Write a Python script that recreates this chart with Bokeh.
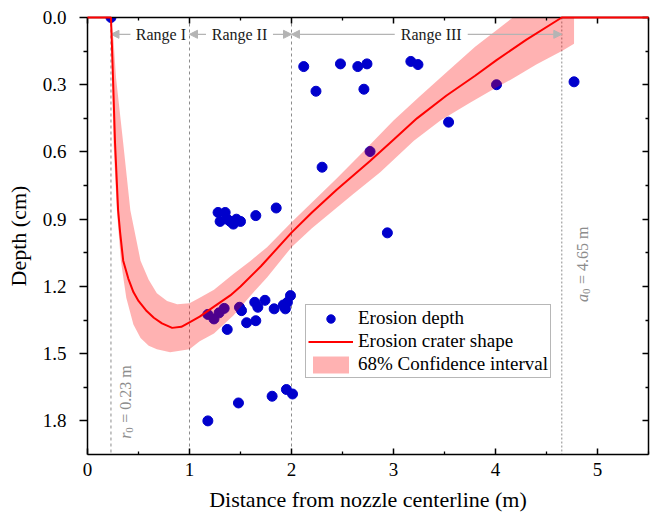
from math import pi
from bokeh.plotting import figure
from bokeh.models import (Range1d, LinearAxis, FixedTicker, Span, Label, Arrow, NormalHead,
                          Legend, LegendItem, PrintfTickFormatter, CustomJSTickFormatter)
from bokeh.embed import file_html
from bokeh.resources import INLINE

SERIF = "Liberation Serif"
GRAY = "#8c8c8c"

# ---------------- data ----------------
x_ticks = [0, 1, 2, 3, 4, 5]
x_minor = [0.5, 1.5, 2.5, 3.5, 4.5, 5.5]
y_ticks = [0.0, 0.3, 0.6, 0.9, 1.2, 1.5, 1.8]
y_minor = [0.15, 0.45, 0.75, 1.05, 1.35, 1.65]

# measured erosion depth
depth_x = [0.23,
           2.12, 2.24, 2.48, 2.65, 2.74, 2.71, 3.17, 3.24, 3.54, 2.77, 2.30, 2.94, 4.01, 4.77,
           1.28, 1.35, 1.30, 1.37, 1.40, 1.43, 1.46, 1.50, 1.65, 1.85,
           1.18, 1.24, 1.29, 1.34, 1.37, 1.49, 1.51, 1.56, 1.64, 1.67, 1.65, 1.74, 1.83,
           1.92, 1.94, 1.96, 1.99,
           1.95, 2.01, 1.81, 1.48, 1.18]
depth_y = [0.0,
           0.219, 0.329, 0.207, 0.219, 0.207, 0.32, 0.196, 0.21, 0.467, 0.598, 0.668, 0.961, 0.30, 0.287,
           0.87, 0.87, 0.91, 0.90, 0.91, 0.922, 0.90, 0.91, 0.884, 0.85,
           1.325, 1.345, 1.318, 1.298, 1.392, 1.293, 1.308, 1.362, 1.271, 1.293, 1.353, 1.262, 1.30,
           1.283, 1.30, 1.271, 1.241,
           1.66, 1.68, 1.69, 1.72, 1.80]

# fitted erosion crater shape
crater_x = [0.0, 0.23, 0.24, 0.25, 0.27, 0.30, 0.32, 0.35, 0.40, 0.45, 0.50, 0.58, 0.65, 0.73,
            0.83, 0.92, 1.00, 1.10, 1.24, 1.40, 1.50, 1.70, 2.00, 2.20, 2.44, 2.77, 3.00,
            3.23, 3.52, 3.80, 4.01, 4.30, 4.65, 5.50]
crater_y = [0.0, 0.0, 0.13, 0.27, 0.56, 0.86, 0.96, 1.085, 1.165, 1.225, 1.265, 1.31, 1.34, 1.365,
            1.385, 1.38, 1.36, 1.335, 1.29, 1.24, 1.20, 1.11, 0.96, 0.87, 0.77, 0.64, 0.545,
            0.45, 0.348, 0.26, 0.19, 0.10, 0.0, 0.0]

# 68% confidence interval: shallow bound and deep bound
ci_shallow_x = [0.23, 0.255, 0.28, 0.35, 0.42, 0.52, 0.60, 0.68, 0.78, 0.88, 1.00, 1.10, 1.24,
                1.43, 1.60, 1.76, 2.00, 2.20, 2.44, 2.70, 3.00, 3.25, 3.52, 3.80, 4.00, 4.17, 4.77]
ci_shallow_y = [0.0, 0.10, 0.27, 0.56, 0.86, 1.085, 1.17, 1.23, 1.265, 1.28, 1.275, 1.25, 1.215,
                1.145, 1.085, 1.025, 0.914, 0.825, 0.72, 0.60, 0.46, 0.355, 0.244, 0.13, 0.06, 0.0, 0.0]
ci_deep_x = [0.23, 0.24, 0.255, 0.288, 0.327, 0.38, 0.45, 0.52, 0.60, 0.68, 0.81, 1.00, 1.10,
             1.24, 1.43, 1.60, 1.76, 2.00, 2.20, 2.44, 2.60, 2.87, 3.20, 3.46, 3.75, 4.00, 4.17,
             4.40, 4.66, 4.77]
ci_deep_y = [0.0, 0.25, 0.56, 0.86, 1.085, 1.25, 1.37, 1.43, 1.465, 1.48, 1.494, 1.48, 1.445,
             1.41, 1.33, 1.24, 1.16, 1.025, 0.94, 0.85, 0.79, 0.69, 0.55, 0.46, 0.38, 0.315, 0.272,
             0.21, 0.147, 0.117]

r0 = 0.23
a0 = 4.65
range_bounds = [0.23, 1.0, 2.0, 4.65]
range_names = ["Range I", "Range II", "Range III"]

# ---------------- layout / style ----------------
range_text_x = [0.72, 1.49, 3.37]
range_text_w_px = [51, 57, 63]
range_y = 0.075

p = figure(width=650, height=522, output_backend="svg", toolbar_location=None,
           x_range=Range1d(0, 5.5), y_range=Range1d(1.95, 0),
           min_border_left=87, min_border_top=17, min_border_right=2, min_border_bottom=68)
p.outline_line_color = None
p.xgrid.visible = False
p.ygrid.visible = False
p.background_fill_color = "white"
p.border_fill_color = "white"

xt = FixedTicker(ticks=x_ticks, minor_ticks=x_minor)
yt = FixedTicker(ticks=y_ticks, minor_ticks=y_minor)

bottom = p.below[0]
left = p.left[0]

bottom.ticker = xt
bottom.axis_label = "Distance from nozzle centerline (m)"
bottom.major_tick_in = 6
bottom.major_tick_out = 0
bottom.minor_tick_in = 3
bottom.minor_tick_out = 0
bottom.major_label_standoff = 8
bottom.axis_label_standoff = 8

left.ticker = yt
left.formatter = PrintfTickFormatter(format="%.1f")
left.axis_label = "Depth (cm)"
left.major_tick_in = 0
left.major_tick_out = 8
left.minor_tick_in = 0
left.minor_tick_out = 4
left.major_label_standoff = 13
left.axis_label_standoff = 9

for ax in (bottom, left):
    ax.major_label_text_font = SERIF
    ax.major_label_text_font_size = "19px"
    ax.major_label_text_color = "black"
    ax.axis_label_text_font = SERIF
    ax.axis_label_text_font_size = "22px"
    ax.axis_label_text_font_style = "normal"
    ax.axis_label_text_color = "black"

blank = CustomJSTickFormatter(code="return '';")
top = LinearAxis(ticker=xt, formatter=blank, major_label_text_font_size="0px",
                 major_label_standoff=0, major_tick_in=6, major_tick_out=0,
                 minor_tick_in=3, minor_tick_out=0)
right = LinearAxis(ticker=yt, formatter=blank, major_label_text_font_size="0px",
                   major_label_standoff=0, major_tick_in=6, major_tick_out=0,
                   minor_tick_in=3, minor_tick_out=0)
p.add_layout(top, "above")
p.add_layout(right, "right")

for ax in (bottom, left, top, right):
    ax.axis_line_width = 1.5
    ax.axis_line_color = "black"
    ax.major_tick_line_width = 1.5
    ax.minor_tick_line_width = 1.3
    ax.major_tick_line_color = "black"
    ax.minor_tick_line_color = "black"

# vertical guide lines
for loc in range_bounds[1:3]:
    p.add_layout(Span(location=loc, dimension="height", line_color=GRAY, line_dash="3 3",
                      line_width=1, level="underlay"))
p.add_layout(Span(location=r0, dimension="height", line_color=GRAY, line_dash="3 3",
                  line_width=1, level="underlay"))
p.add_layout(Span(location=a0, dimension="height", line_color=GRAY, line_dash="2 2",
                  line_width=1, level="underlay"))

# data glyphs
pts = p.scatter(depth_x, depth_y, size=10, marker="circle", fill_color="#0000CC",
                line_color="#0000CC")
band = p.patch(ci_shallow_x + ci_deep_x[::-1], ci_shallow_y + ci_deep_y[::-1],
               fill_color="#FF0000", fill_alpha=0.3, line_color=None)
line = p.line(crater_x, crater_y, line_color="#FF0000", line_width=2, level="overlay")

# range annotations
ppu = 561 / 5.5
for i, name in enumerate(range_names):
    c = range_text_x[i]
    hw = range_text_w_px[i] / 2 / ppu
    gap = 5 / ppu
    L, R = range_bounds[i], range_bounds[i + 1]
    p.add_layout(Label(x=c, y=range_y, text=name, text_font=SERIF, text_font_size="16px",
                       text_color="#1a1a1a", text_align="center", text_baseline="middle"))
    ls = c - hw - gap
    if ls - L > 0.05:
        p.add_layout(Arrow(x_start=ls, y_start=range_y, x_end=L, y_end=range_y,
                           line_color="#b4b4b4", line_width=1.2,
                           end=NormalHead(size=8, fill_color="#b4b4b4", line_color="#b4b4b4")))
    rs = c + hw + gap
    if R - rs > 0.05:
        p.add_layout(Arrow(x_start=rs, y_start=range_y, x_end=R, y_end=range_y,
                           line_color="#b4b4b4", line_width=1.2,
                           end=NormalHead(size=8, fill_color="#b4b4b4", line_color="#b4b4b4")))

# r0 / a0 labels (rotated)
def rotated_label(x, y, sym, rest):
    common = dict(angle=pi / 2, text_font=SERIF, text_color=GRAY, text_align="left",
                  text_baseline="middle")
    p.add_layout(Label(x=x, y=y, text=sym, text_font_style="italic", text_font_size="16px",
                       **common))
    w = 8 if sym == "a" else 6
    p.add_layout(Label(x=x, y=y, x_offset=4, y_offset=w, text="0", text_font_size="11px",
                       **common))
    p.add_layout(Label(x=x, y=y, y_offset=w + 10, text=rest, text_font_size="16px", **common))

rotated_label(0.37, 1.88, "r", "= 0.23 m")
rotated_label(4.85, 1.27, "a", "= 4.65 m")

legend = Legend(items=[LegendItem(label="Erosion depth", renderers=[pts]),
                       LegendItem(label="Erosion crater shape", renderers=[line]),
                       LegendItem(label="68% Confidence interval", renderers=[band])],
                location=(218, 76), orientation="vertical",
                border_line_color="#707070", border_line_width=1,
                background_fill_color="white", background_fill_alpha=1,
                padding=2, margin=0, spacing=1, glyph_width=45, glyph_height=21,
                label_height=21, label_standoff=5,
                label_text_font=SERIF, label_text_font_size="19px", label_text_color="black")
p.add_layout(legend)

open("out.html", "w").write(file_html(p, INLINE))
